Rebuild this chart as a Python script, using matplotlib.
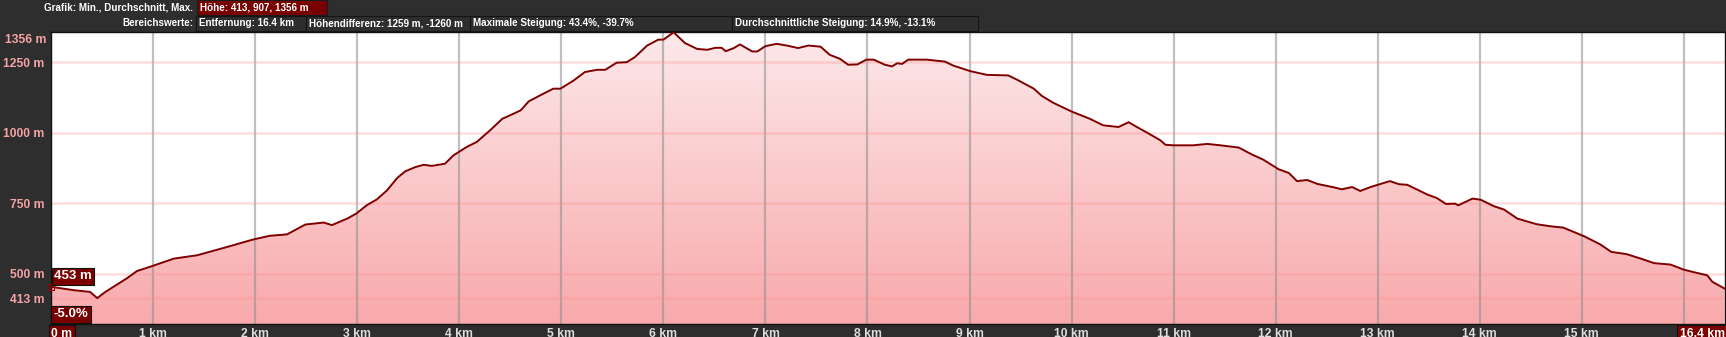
import matplotlib.pyplot as plt
import numpy as np
from matplotlib.colors import LinearSegmentedColormap
from matplotlib.patches import Rectangle

# profile: distance (km) and elevation (m)
dist = [0.0, 0.22, 0.38, 0.45, 0.53, 0.74, 0.84, 1.0, 1.2, 1.43, 1.69, 1.98, 2.14, 2.31,
        2.49, 2.67, 2.75, 2.9, 2.99, 3.09, 3.19, 3.29, 3.39, 3.47, 3.57, 3.65, 3.73, 3.86,
        3.94, 4.07, 4.17, 4.3, 4.42, 4.53, 4.6, 4.68, 4.79, 4.92, 4.99, 5.12, 5.23, 5.35,
        5.43, 5.54, 5.64, 5.72, 5.84, 5.95, 6.0, 6.1, 6.21, 6.33, 6.43, 6.51, 6.57, 6.61,
        6.69, 6.75, 6.87, 6.92, 7.0, 7.11, 7.21, 7.32, 7.42, 7.54, 7.63, 7.73, 7.81, 7.9,
        7.99, 8.06, 8.17, 8.24, 8.29, 8.34, 8.4, 8.58, 8.76, 8.84, 9.01, 9.17, 9.38, 9.47,
        9.63, 9.71, 9.82, 10.0, 10.18, 10.31, 10.46, 10.56, 10.64, 10.74, 10.87, 10.92,
        11.0, 11.19, 11.33, 11.46, 11.64, 11.77, 11.88, 12.03, 12.13, 12.21, 12.31, 12.41,
        12.57, 12.65, 12.75, 12.83, 12.93, 13.03, 13.12, 13.21, 13.29, 13.49, 13.58, 13.67,
        13.76, 13.79, 13.93, 14.01, 14.14, 14.24, 14.37, 14.56, 14.69, 14.82, 14.92, 15.02,
        15.18, 15.29, 15.44, 15.58, 15.71, 15.87, 16.0, 16.11, 16.23, 16.28, 16.4]
elev = [453, 441, 435, 413, 435, 483, 509, 528, 553, 565, 591, 621, 634, 639,
        674, 681, 672, 695, 713, 742, 763, 795, 839, 863, 878, 886, 882, 890,
        919, 949, 967, 1008, 1049, 1067, 1079, 1111, 1132, 1156, 1156, 1185, 1215, 1223,
        1223, 1248, 1250, 1268, 1309, 1330, 1330, 1356, 1318, 1297, 1294, 1301, 1301, 1289,
        1300, 1313, 1288, 1288, 1307, 1315, 1309, 1300, 1309, 1305, 1276, 1262, 1241, 1242,
        1259, 1259, 1241, 1235, 1246, 1244, 1259, 1259, 1252, 1238, 1218, 1205, 1203, 1187,
        1156, 1130, 1106, 1075, 1049, 1026, 1020, 1037, 1020, 1000, 973, 957,
        955, 955, 960, 955, 947, 922, 904, 870, 857, 828, 832, 818,
        806, 799, 807, 793, 807, 818, 828, 817, 815, 780, 768, 747,
        748, 742, 766, 762, 739, 727, 695, 675, 668, 663, 648, 633,
        604, 577, 569, 553, 537, 532, 514, 504, 494, 471, 447]

y_ticks = [413, 500, 750, 1000, 1250]
y_labels = ["413 m", "500 m", "750 m", "1000 m", "1250 m"]
x_ticks = list(range(0, 16)) + [16.4]
x_labels = ["0 m"] + [f"{k} km" for k in range(1, 16)] + ["16.4 km"]

header_left = ["Grafik: Min., Durchschnitt, Max.", "Bereichswerte:"]
header_boxes = ["Entfernung: 16.4 km", "Höhendifferenz: 1259 m, -1260 m",
                "Maximale Steigung: 43.4%, -39.7%", "Durchschnittliche Steigung: 14.9%, -13.1%"]

W, H = 1726, 337
BG = "#2e2e2e"
DARKRED = "#7a0000"
plt.rcParams['font.family'] = ['Liberation Sans', 'DejaVu Sans']

fig = plt.figure(figsize=(W / 100, H / 100), dpi=100, facecolor=BG)

def fx(x):
    return x / W

def fy(y):
    return 1 - y / H

ax_w = 1724.5 - 51.3
ax = fig.add_axes([fx(51.3), fy(324.3), fx(ax_w), (324.3 - 32.3) / H])
ax.set_facecolor("white")
ymin, ymax = 320, 1356
ax.set_xlim(0, 16.4)
ax.set_ylim(ymin, ymax)

# gradient fill under the profile
cmap = LinearSegmentedColormap.from_list("prof", ["#f8a9ab", "#fde9ea"])
grad = np.linspace(0, 1, 256).reshape(-1, 1)
im = ax.imshow(grad, extent=[0, 16.4, ymin, ymax], origin="lower", aspect="auto",
               cmap=cmap, zorder=1)
poly = ax.fill_between(dist, elev, ymin, facecolor="none", edgecolor="none")
im.set_clip_path(poly.get_paths()[0], transform=ax.transData)

# grid over the fill
for k in range(1, 17):
    ax.axvline(k, color="#8c8c8c", alpha=0.55, lw=1.6, zorder=2)
for v in y_ticks:
    ax.axhline(v, color="#ff8f8f", alpha=0.3, lw=1.8, zorder=2)

ax.plot(dist, elev, color="#800000", lw=1.4, zorder=3)
ax.plot([0], [elev[0]], marker="s", ms=4, mfc="none", mec="#a00000", mew=0.8,
        zorder=4, clip_on=False)

for s in ax.spines.values():
    s.set_color("#111111")
    s.set_linewidth(1)

ax.set_yticks(y_ticks)
ax.set_yticklabels(y_labels)
ax.tick_params(axis="y", length=0, pad=5, labelcolor="#f5a3a3", labelsize=8.7)
for t in ax.get_yticklabels():
    t.set_fontweight("bold")
ax.text(-5.0 / ax_w, ymax - 5, "1356 m", transform=ax.get_yaxis_transform(),
        ha="right", va="top", color="#f5a3a3", fontsize=8.7, fontweight="bold",
        clip_on=False)

ax.set_xticks(x_ticks)
ax.set_xticklabels(x_labels)
ax.tick_params(axis="x", length=0, pad=2.5, labelcolor="#dddddd", labelsize=8.7)
xl = ax.get_xticklabels()
for t in xl:
    t.set_fontweight("bold")
    t.set_va("top")
xl[0].set_ha("left")
xl[0].set_color("white")
xl[0].set_bbox(dict(facecolor=DARKRED, edgecolor="#111111", pad=2, lw=0.8))
xl[-1].set_ha("right")
xl[-1].set_color("white")
xl[-1].set_bbox(dict(facecolor=DARKRED, edgecolor="#111111", pad=2, lw=0.8))

# start value and slope markers
ax.annotate("453 m", xy=(0, elev[0]), xytext=(2, 7.5), textcoords="offset points",
            ha="left", va="center", color="white", fontsize=9.5, fontweight="bold",
            bbox=dict(facecolor=DARKRED, edgecolor="#111111", pad=1.8, lw=0.8), zorder=5)
ax.text(0.0012, 0.014, "-5.0%", transform=ax.transAxes, ha="left", va="bottom",
        color="white", fontsize=9.5, fontweight="bold",
        bbox=dict(facecolor=DARKRED, edgecolor="#111111", pad=1.8, lw=0.8), zorder=5)

# header rows
HFS = 7.1
fig.text(fx(193), fy(7.5), header_left[0], ha="right", va="center", color="white",
         fontsize=HFS, fontweight="bold")
fig.patches.append(Rectangle((fx(196.5), fy(14.5)), fx(327 - 196.5), 14.5 / H,
                             transform=fig.transFigure, facecolor=DARKRED,
                             edgecolor="#1a1a1a", lw=0.8))
fig.text(fx(199.5), fy(7.5), "Höhe: 413, 907, 1356 m", ha="left", va="center",
         color="white", fontsize=HFS, fontweight="bold")

fig.text(fx(193), fy(23.5), header_left[1], ha="right", va="center", color="white",
         fontsize=HFS, fontweight="bold")
edges = [196, 306, 470, 732, 978]
for i, label in enumerate(header_boxes):
    x0, x1 = edges[i], edges[i + 1]
    fig.patches.append(Rectangle((fx(x0), fy(31)), fx(x1 - x0), 15.5 / H,
                                 transform=fig.transFigure, facecolor=BG,
                                 edgecolor="#151515", lw=0.8))
    fig.text(fx(x0 + 3), fy(23.5), label, ha="left", va="center", color="white",
             fontsize=HFS, fontweight="bold")

fig.savefig("out.png", dpi=100, facecolor=BG)
